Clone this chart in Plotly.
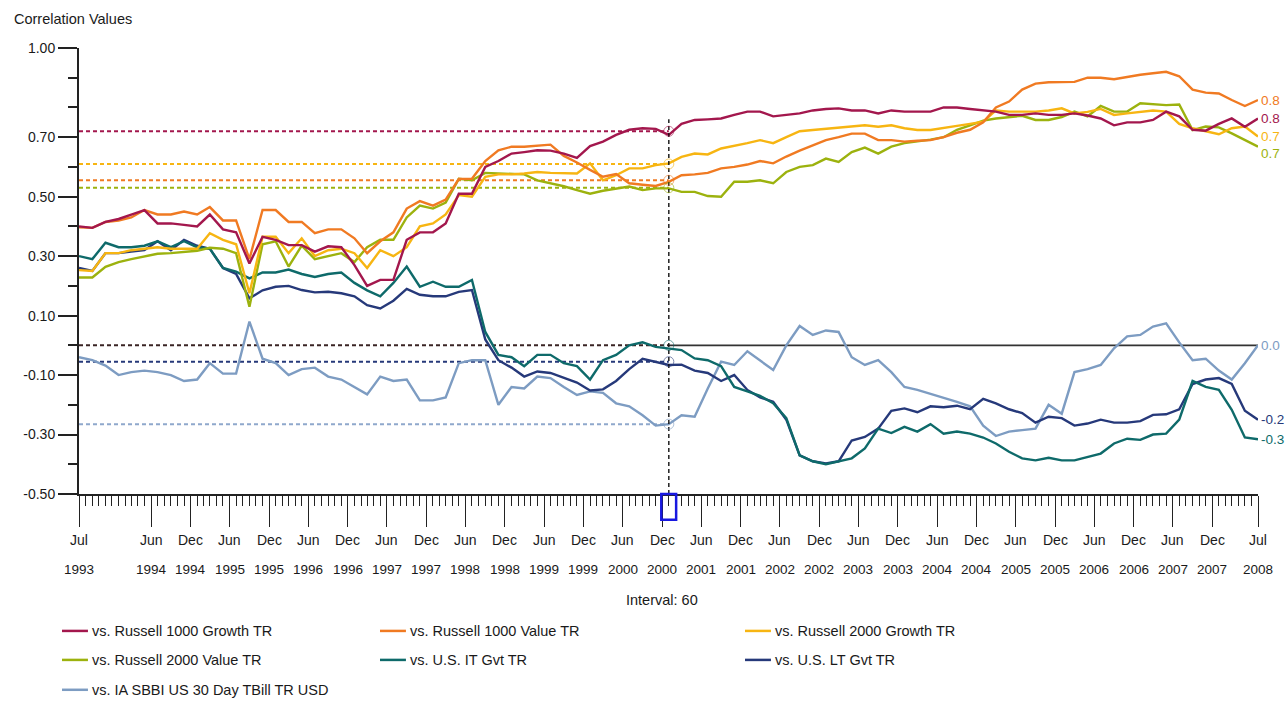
import pandas as pd
import plotly.graph_objects as go

# ---------------- data ----------------
dates = pd.date_range("1993-07-01", "2008-07-01", freq="2MS")  # every 2 months

series_names = [
    "vs. Russell 1000 Growth TR",
    "vs. Russell 1000 Value TR",
    "vs. Russell 2000 Growth TR",
    "vs. Russell 2000 Value TR",
    "vs. U.S. IT Gvt TR",
    "vs. U.S. LT Gvt TR",
    "vs. IA SBBI US 30 Day TBill TR USD",
]

r1000_growth = [
    0.40, 0.395, 0.415, 0.425, 0.44, 0.455, 0.41, 0.41, 0.405, 0.40,
    0.44, 0.39, 0.38, 0.275, 0.365, 0.355, 0.337, 0.337, 0.315, 0.333,
    0.33, 0.27, 0.20, 0.22, 0.22, 0.355, 0.38, 0.38, 0.41, 0.51,
    0.51, 0.60, 0.62, 0.645, 0.65, 0.656, 0.655, 0.645, 0.63, 0.67,
    0.685, 0.708, 0.725, 0.73, 0.728, 0.708, 0.745, 0.758, 0.76, 0.763,
    0.775, 0.786, 0.786, 0.77, 0.775, 0.78, 0.79, 0.795, 0.797, 0.79,
    0.79, 0.78, 0.79, 0.786, 0.786, 0.786, 0.80, 0.80, 0.795, 0.79,
    0.786, 0.775, 0.775, 0.78, 0.775, 0.775, 0.78, 0.773, 0.763, 0.74,
    0.75, 0.75, 0.758, 0.786, 0.77, 0.725, 0.722, 0.745, 0.763, 0.735,
    0.763,
]
r1000_value = [
    0.397, 0.395, 0.415, 0.42, 0.43, 0.455, 0.44, 0.44, 0.45, 0.44,
    0.465, 0.42, 0.42, 0.29, 0.455, 0.455, 0.415, 0.415, 0.377, 0.39,
    0.39, 0.36, 0.31, 0.35, 0.38, 0.46, 0.485, 0.47, 0.49, 0.56,
    0.56, 0.62, 0.656, 0.668, 0.668, 0.672, 0.675, 0.637, 0.615, 0.59,
    0.567, 0.576, 0.545, 0.54, 0.536, 0.55, 0.572, 0.575, 0.58, 0.595,
    0.60, 0.608, 0.62, 0.612, 0.635, 0.655, 0.672, 0.69, 0.70, 0.712,
    0.712, 0.69, 0.69, 0.685, 0.688, 0.69, 0.70, 0.715, 0.725, 0.75,
    0.80, 0.82, 0.86, 0.88, 0.885, 0.886, 0.886, 0.90, 0.90, 0.895,
    0.903, 0.91, 0.915, 0.92, 0.905, 0.86, 0.85, 0.847, 0.825, 0.805,
    0.825,
]
r2000_growth = [
    0.253, 0.25, 0.31, 0.31, 0.32, 0.325, 0.33, 0.325, 0.325, 0.325,
    0.377, 0.355, 0.34, 0.175, 0.365, 0.365, 0.31, 0.36, 0.30, 0.32,
    0.325, 0.31, 0.26, 0.32, 0.30, 0.33, 0.40, 0.41, 0.44, 0.505,
    0.50, 0.567, 0.575, 0.575, 0.578, 0.583, 0.58, 0.578, 0.578, 0.612,
    0.555, 0.572, 0.595, 0.595, 0.606, 0.612, 0.634, 0.645, 0.642, 0.662,
    0.67, 0.68, 0.69, 0.68, 0.70, 0.72, 0.724, 0.728, 0.73, 0.736,
    0.74, 0.735, 0.74, 0.73, 0.724, 0.724, 0.73, 0.738, 0.745, 0.752,
    0.79, 0.786, 0.786, 0.786, 0.79, 0.797, 0.78, 0.785, 0.795, 0.775,
    0.78, 0.786, 0.79, 0.786, 0.745, 0.73, 0.72, 0.71, 0.73, 0.736,
    0.702,
]
r2000_value = [
    0.228, 0.228, 0.264, 0.28, 0.29, 0.30, 0.308, 0.31, 0.315, 0.318,
    0.328, 0.325, 0.31, 0.13, 0.34, 0.35, 0.265, 0.335, 0.29, 0.30,
    0.31, 0.28, 0.33, 0.355, 0.355, 0.43, 0.47, 0.46, 0.48, 0.56,
    0.555, 0.58, 0.578, 0.578, 0.575, 0.555, 0.545, 0.535, 0.522, 0.51,
    0.52, 0.528, 0.534, 0.522, 0.528, 0.528, 0.516, 0.516, 0.502, 0.50,
    0.55, 0.55, 0.555, 0.545, 0.583, 0.60, 0.606, 0.628, 0.617, 0.65,
    0.665, 0.645, 0.668, 0.68, 0.685, 0.692, 0.70, 0.725, 0.74, 0.756,
    0.763, 0.768, 0.772, 0.758, 0.758, 0.768, 0.786, 0.77, 0.805, 0.786,
    0.786, 0.814, 0.81, 0.808, 0.81, 0.724, 0.736, 0.733, 0.713, 0.69,
    0.668,
]
us_it_gvt = [
    0.30, 0.29, 0.345, 0.33, 0.33, 0.335, 0.35, 0.33, 0.35, 0.33,
    0.325, 0.26, 0.248, 0.225, 0.245, 0.245, 0.255, 0.24, 0.23, 0.24,
    0.245, 0.21, 0.185, 0.165, 0.21, 0.265, 0.197, 0.214, 0.197, 0.197,
    0.22, 0.045, -0.032, -0.04, -0.07, -0.032, -0.032, -0.06, -0.07, -0.115,
    -0.05, -0.032, 0.0, 0.01, -0.005, -0.01, -0.016, -0.044, -0.05, -0.07,
    -0.14, -0.155, -0.17, -0.195, -0.245, -0.37, -0.39, -0.40, -0.39, -0.38,
    -0.347, -0.28, -0.295, -0.274, -0.29, -0.265, -0.297, -0.29, -0.297, -0.31,
    -0.33, -0.358, -0.38, -0.387, -0.378, -0.387, -0.387, -0.375, -0.364, -0.33,
    -0.314, -0.318, -0.30, -0.297, -0.25, -0.12, -0.14, -0.15, -0.217, -0.31,
    -0.316,
]
us_lt_gvt = [
    0.26, 0.25, 0.31, 0.31, 0.315, 0.32, 0.35, 0.32, 0.355, 0.335,
    0.325, 0.26, 0.24, 0.158, 0.185, 0.197, 0.20, 0.186, 0.178, 0.18,
    0.175, 0.165, 0.135, 0.124, 0.15, 0.19, 0.17, 0.165, 0.165, 0.18,
    0.186, 0.02, -0.05, -0.075, -0.105, -0.088, -0.093, -0.11, -0.125, -0.152,
    -0.148, -0.12, -0.08, -0.045, -0.055, -0.066, -0.065, -0.085, -0.093, -0.12,
    -0.10, -0.15, -0.175, -0.19, -0.25, -0.37, -0.39, -0.397, -0.39, -0.32,
    -0.308, -0.28, -0.22, -0.212, -0.225, -0.205, -0.208, -0.203, -0.215, -0.18,
    -0.195, -0.215, -0.228, -0.26, -0.24, -0.245, -0.27, -0.263, -0.25, -0.26,
    -0.26, -0.255, -0.234, -0.232, -0.215, -0.13, -0.115, -0.11, -0.13, -0.22,
    -0.25,
]
tbill_30day = [
    -0.04, -0.05, -0.068, -0.10, -0.09, -0.085, -0.09, -0.10, -0.12, -0.115,
    -0.06, -0.095, -0.095, 0.08, -0.045, -0.06, -0.10, -0.08, -0.075, -0.105,
    -0.115, -0.14, -0.165, -0.105, -0.12, -0.115, -0.185, -0.185, -0.175, -0.06,
    -0.05, -0.05, -0.20, -0.14, -0.145, -0.105, -0.11, -0.14, -0.167, -0.155,
    -0.16, -0.195, -0.205, -0.235, -0.27, -0.265, -0.235, -0.24, -0.145, -0.055,
    -0.066, -0.02, -0.05, -0.083, 0.0, 0.065, 0.035, 0.05, 0.045, -0.04,
    -0.066, -0.05, -0.09, -0.14, -0.15, -0.163, -0.175, -0.19, -0.205, -0.27,
    -0.305, -0.29, -0.285, -0.28, -0.2, -0.23, -0.09, -0.08, -0.066, -0.01,
    0.03, 0.035, 0.063, 0.074, 0.01, -0.05, -0.045, -0.085, -0.115, -0.06,
    0.0,
]

# values at the cursor date (Dec 2000)
cursor_date = "2001-01-01"
cursor_values = [0.72, 0.555, 0.61, 0.53, 0.0, -0.055, -0.265]

# axis ticks
y_tick_vals = [1.0, 0.7, 0.5, 0.3, 0.1, -0.1, -0.3, -0.5]
y_tick_text = ["1.00", "0.70", "0.50", "0.30", "0.10", "-0.10", "-0.30", "-0.50"]
y_minor_vals = [0.9, 0.8, 0.6, 0.4, 0.2, 0.0, -0.2, -0.4]

x_tick_dates = [
    "1993-07-01", "1993-12-01", "1994-06-01", "1994-12-01", "1995-06-01", "1995-12-01",
    "1996-06-01", "1996-12-01", "1997-06-01", "1997-12-01", "1998-06-01", "1998-12-01",
    "1999-06-01", "1999-12-01", "2000-06-01", "2000-12-01", "2001-06-01", "2001-12-01",
    "2002-06-01", "2002-12-01", "2003-06-01", "2003-12-01", "2004-06-01", "2004-12-01",
    "2005-06-01", "2005-12-01", "2006-06-01", "2006-12-01", "2007-06-01", "2007-12-01",
    "2008-07-01",
]
x_tick_months = ["Jul", ""] + ["Jun", "Dec"] * 14 + ["Jul"]
x_tick_years = [
    "1993", "", "1994", "1994", "1995", "1995", "1996", "1996", "1997", "1997",
    "1998", "1998", "1999", "1999", "2000", "2000", "2001", "2001", "2002", "2002",
    "2003", "2003", "2004", "2004", "2005", "2005", "2006", "2006", "2007", "2007",
    "2008",
]

colors = ["#A3174D", "#F07A22", "#F7B512", "#9CB20E", "#0E6A6A", "#26397A", "#7D9CC2"]

all_series = [r1000_growth, r1000_value, r2000_growth, r2000_value,
              us_it_gvt, us_lt_gvt, tbill_30day]

FONT = "Liberation Sans, Arial, sans-serif"
TXT = "#1a1a1a"

fig = go.Figure()

# dashed guide lines from the y axis to the cursor
guide_colors = ["#A3174D", "#F07A22", "#F7B512", "#9CB20E", "#3a2424", "#26397A", "#8FA8CC"]
for v, c in zip(cursor_values, guide_colors):
    fig.add_trace(go.Scatter(x=["1993-07-01", cursor_date], y=[v, v], mode="lines",
                             line=dict(color=c, width=2, dash="4px,3px"),
                             hoverinfo="skip", showlegend=False))

# zero reference line after the cursor
fig.add_trace(go.Scatter(x=[cursor_date, "2008-07-01"], y=[0, 0], mode="lines",
                         line=dict(color="#333333", width=1.6),
                         hoverinfo="skip", showlegend=False))

# series (drawn in reverse so Russell 1000 Growth is on top)
for name, vals, c in reversed(list(zip(series_names, all_series, colors))):
    fig.add_trace(go.Scatter(x=dates, y=vals, mode="lines", name=name,
                             line=dict(color=c, width=2.4),
                             showlegend=False))

# cursor vertical line
fig.add_trace(go.Scatter(x=[cursor_date, cursor_date], y=[-0.5, 0.76], mode="lines",
                         line=dict(color="#111111", width=1.4, dash="4px,3px"),
                         hoverinfo="skip", showlegend=False))

# small open markers where the cursor meets each series
fig.add_trace(go.Scatter(x=[cursor_date] * len(cursor_values), y=cursor_values,
                         mode="markers",
                         marker=dict(symbol="circle-open", size=10, color=colors,
                                     line=dict(width=1)),
                         opacity=0.6, hoverinfo="skip", showlegend=False))

shapes = []
# cursor box on the axis
shapes.append(dict(type="rect", xref="x", yref="paper",
                   x0="2000-11-27", x1="2001-02-04", y0=0.0, y1=-0.058,
                   line=dict(color="#1818E0", width=2.5), fillcolor="rgba(0,0,0,0)"))

annotations = []
annotations.append(dict(text="Correlation Values", xref="paper", yref="paper",
                        x=-0.057, y=1.065, xanchor="left", yanchor="middle",
                        showarrow=False, font=dict(family=FONT, size=14.5, color=TXT)))
annotations.append(dict(text="Interval: 60", xref="paper", yref="paper",
                        x=0.4945, y=-0.2377, xanchor="center", yanchor="middle",
                        showarrow=False, font=dict(family=FONT, size=14.5, color=TXT)))
for d, mo, yr in zip(x_tick_dates, x_tick_months, x_tick_years):
    if mo:
        annotations.append(dict(text=mo, xref="x", yref="paper", x=d, y=-0.1031,
                                xanchor="center", yanchor="middle", showarrow=False,
                                font=dict(family=FONT, size=14, color=TXT)))
    if yr:
        annotations.append(dict(text=yr, xref="x", yref="paper", x=d, y=-0.1704,
                                xanchor="center", yanchor="middle", showarrow=False,
                                font=dict(family=FONT, size=13.5, color=TXT)))

# end-of-line value labels, pushed apart so they do not collide
min_gap = 0.057
order = sorted(range(len(all_series)), key=lambda k: -all_series[k][-1])
placed = {}
prev = None
for k in order:
    yv = all_series[k][-1]
    if prev is not None and prev - yv < min_gap:
        yv = prev - min_gap
    placed[k] = yv
    prev = yv
for k, (vals, c) in enumerate(zip(all_series, colors)):
    last = vals[-1]
    label = f"{round(last, 1):.1f}"
    if label == "-0.0":
        label = "0.0"
    annotations.append(dict(text=label, xref="paper", yref="y", x=1.0012, y=placed[k],
                            xanchor="left", yanchor="middle", showarrow=False,
                            font=dict(family=FONT, size=13.5, color=c)))

# legend (3 columns)
leg_cols = [-0.0144, 0.2553, 0.5649]
leg_rows = [-0.307, -0.372, -0.439]
for i, (name, c) in enumerate(zip(series_names, colors)):
    col = i % 3
    row = i // 3
    x0 = leg_cols[col]
    y0 = leg_rows[row]
    shapes.append(dict(type="line", xref="paper", yref="paper",
                       x0=x0, x1=x0 + 0.022, y0=y0, y1=y0,
                       line=dict(color=c, width=2.5)))
    annotations.append(dict(text=name, xref="paper", yref="paper",
                            x=x0 + 0.0235, y=y0, xanchor="left", yanchor="middle",
                            showarrow=False, font=dict(family=FONT, size=14.5, color=TXT)))

fig.update_layout(
    width=1287, height=701,
    margin=dict(l=79, r=29, t=48, b=207),
    plot_bgcolor="white", paper_bgcolor="white",
    showlegend=False,
    font=dict(family=FONT, size=14, color=TXT),
    shapes=shapes, annotations=annotations,
    xaxis=dict(
        type="date", range=["1993-07-01", "2008-07-01"],
        showgrid=False, zeroline=False,
        showline=True, linecolor="#222222", linewidth=2,
        ticks="outside", ticklen=31, tickwidth=1.2, tickcolor="#222222",
        tickmode="array", tickvals=x_tick_dates, ticktext=x_tick_months,
        showticklabels=False,
        minor=dict(ticks="outside", ticklen=10, tickwidth=1, tickcolor="#222222",
                   dtick="M1", tick0="1993-07-01", showgrid=False),
    ),
    yaxis=dict(
        range=[-0.5, 1.0],
        showgrid=False, zeroline=False,
        showline=True, linecolor="#222222", linewidth=2,
        ticks="outside", ticklen=19, tickwidth=1.5, tickcolor="#222222",
        tickmode="array", tickvals=y_tick_vals, ticktext=y_tick_text,
        tickfont=dict(family=FONT, size=14, color=TXT),
        minor=dict(ticks="outside", ticklen=9, tickwidth=1.5, tickcolor="#222222",
                   tickmode="array", tickvals=y_minor_vals, showgrid=False),
    ),
)

fig.write_html("out.html", config={"displayModeBar": False},
               post_script="document.body.style.margin='0px';")
